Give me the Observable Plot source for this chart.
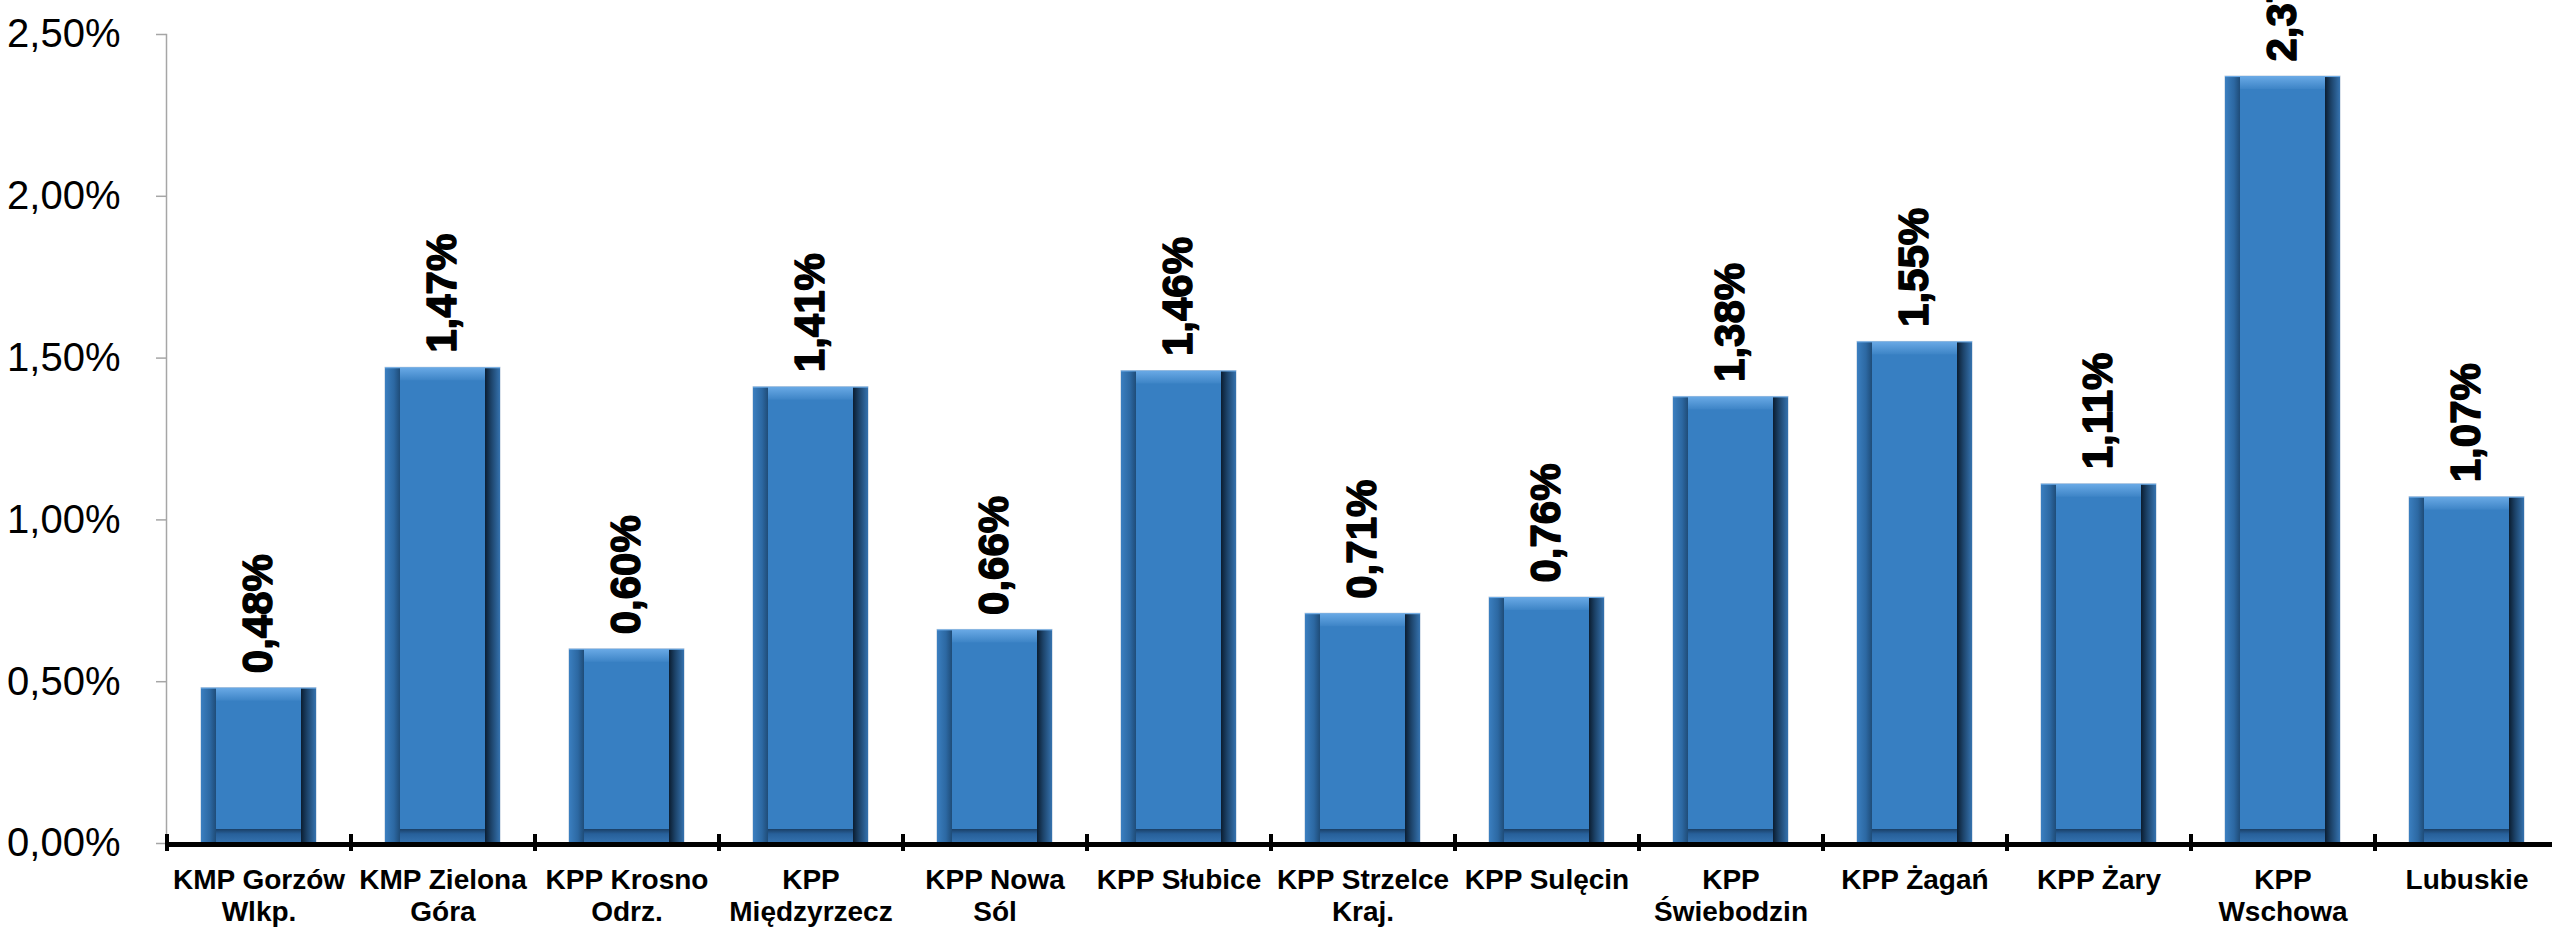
<!DOCTYPE html>
<html>
<head>
<meta charset="utf-8">
<script src="https://cdn.jsdelivr.net/npm/d3@7"></script>
<script src="https://cdn.jsdelivr.net/npm/@observablehq/plot@0.6"></script>
<style>
  html, body { margin: 0; padding: 0; background: white; overflow: hidden; }
  #chart svg { display: block; }
</style>
</head>
<body>
<div id="chart"></div>
<script>
const categories = [
  "KMP Gorzów Wlkp.", "KMP Zielona Góra", "KPP Krosno Odrz.", "KPP Międzyrzecz",
  "KPP Nowa Sól", "KPP Słubice", "KPP Strzelce Kraj.", "KPP Sulęcin",
  "KPP Świebodzin", "KPP Żagań", "KPP Żary", "KPP Wschowa", "Lubuskie"
];
const values = [0.48, 1.47, 0.60, 1.41, 0.66, 1.46, 0.71, 0.76, 1.38, 1.55, 1.11, 2.37, 1.07];
const tickLabels = [
  "KMP Gorzów\nWlkp.", "KMP Zielona\nGóra", "KPP Krosno\nOdrz.", "KPP\nMiędzyrzecz",
  "KPP Nowa\nSól", "KPP Słubice", "KPP Strzelce\nKraj.", "KPP Sulęcin",
  "KPP\nŚwiebodzin", "KPP Żagań", "KPP Żary", "KPP\nWschowa", "Lubuskie"
];
const yTicks = [0, 0.5, 1.0, 1.5, 2.0, 2.5];

const data = categories.map((c, i) => ({cat: c, value: values[i], label: tickLabels[i]}));
const fmt = v => v.toFixed(2).replace(".", ",") + "%";

const W = 2552, H = 929;
const xRange = [166.5, 2558.5];
const pIn = 0.375, pOut = 0.1875;
const step = (xRange[1] - xRange[0]) / categories.length;
const bw = step * (1 - pIn);
const B = 15;

const svg = Plot.plot({
  width: W, height: H,
  marginTop: 34, marginBottom: 86, marginLeft: 166, marginRight: 0,
  style: {fontFamily: "'Liberation Sans', Arial, sans-serif", background: "white", overflow: "hidden"},
  x: {domain: categories, range: xRange, paddingInner: pIn, paddingOuter: pOut, round: false, axis: null},
  y: {domain: [0, 2.5], axis: null},
  marks: [
    Plot.frame({anchor: "left", stroke: "#a6a6a6", strokeWidth: 1.5}),
    Plot.axisY({ticks: yTicks, tickFormat: fmt, tickSize: 10, tickPadding: 36, fontSize: 40,
      stroke: "#a6a6a6", fill: "black", strokeWidth: 1.5, label: null}),
    Plot.barY(data, {x: "cat", y: "value", fill: "#377fc2", stroke: "#b8c8da", strokeWidth: 1}),
    Plot.barY(data, {x: "cat", y1: "value", y2: "value", insetBottom: -13, fill: "url(#bevT)"}),
    Plot.barY(data, {x: "cat", y1: 0, y2: 0, insetTop: -14, fill: "url(#bevB)"}),
    Plot.barY(data, {x: "cat", y: "value", insetRight: bw - B, insetTop: 1, fill: "url(#bevL)"}),
    Plot.barY(data, {x: "cat", y: "value", insetLeft: bw - B, insetTop: 1, fill: "url(#bevR)"}),
    Plot.ruleY([0], {stroke: "black", strokeWidth: 5, dy: 1}),
    Plot.ruleX(categories, {x: d => d, y1: 0, y2: 0, insetTop: -9, insetBottom: -8, dx: -step / 2,
      stroke: "black", strokeWidth: 4}),
    Plot.text(data, {x: "cat", y: "value", text: d => fmt(d.value), rotate: -90, textAnchor: "start",
      dy: -15, fontSize: 42, fontWeight: "bold", fill: "black", stroke: "black", strokeWidth: 1.4}),
    Plot.text(data, {x: "cat", y: 0, text: "label", lineAnchor: "top", dy: 23, fontSize: 28,
      fontWeight: "bold", lineHeight: 1.14, fill: "black"})
  ]
});

const defs = d3.select(svg).insert("defs", ":first-child");
function grad(id, x2, y2, stops) {
  const g = defs.append("linearGradient").attr("id", id)
    .attr("x1", 0).attr("y1", 0).attr("x2", x2).attr("y2", y2);
  stops.forEach(([o, c]) => g.append("stop").attr("offset", o).attr("stop-color", c));
}
grad("bevT", 0, 1, [[0, "#6aaae6"], [1, "#3d84c6"]]);
grad("bevB", 0, 1, [[0, "#1a3f66"], [0.35, "#27609a"], [1, "#3573b0"]]);
grad("bevL", 1, 0, [[0, "#3b7fc0"], [0.6, "#2c68a2"], [1, "#1f4c78"]]);
grad("bevR", 1, 0, [[0, "#0b1d30"], [0.4, "#1c4268"], [1, "#3572ae"]]);

document.getElementById("chart").appendChild(svg);
</script>
</body>
</html>
